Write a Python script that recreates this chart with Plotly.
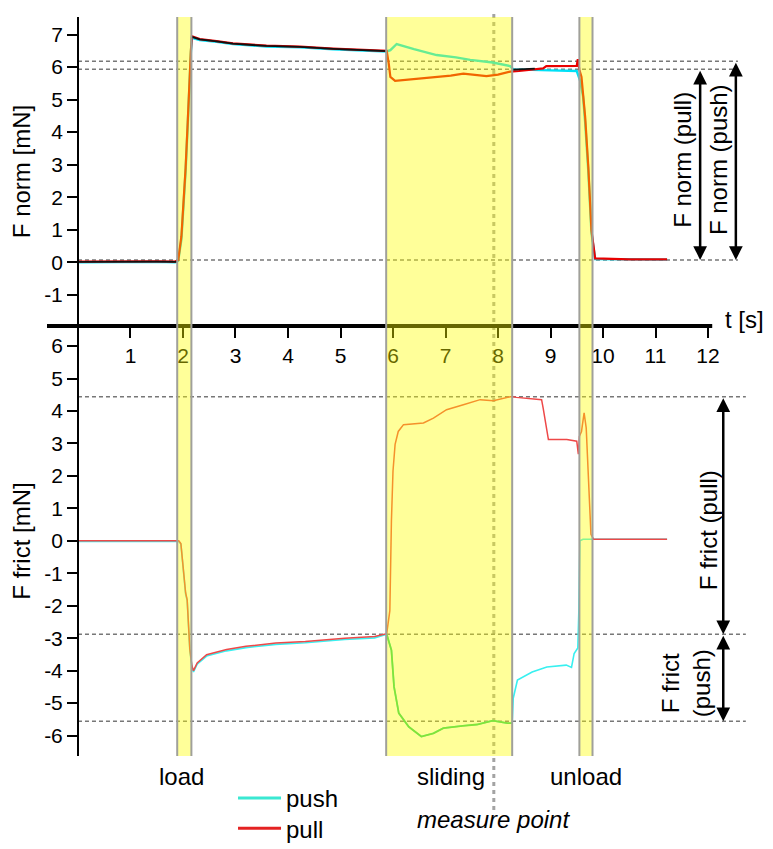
import plotly.graph_objects as go

# ---------------- data ----------------
# Normal force, top panel
norm_t_push = [0, 0.5, 1.0, 1.5, 1.85, 1.91, 1.97, 2.01, 2.05, 2.09, 2.12, 2.15, 2.17, 2.32, 2.64, 2.95,
               3.59, 4.23, 4.86, 5.5, 5.88, 5.95, 6.07, 6.4, 6.83, 7.2, 7.47, 7.9, 8.23, 8.29, 8.6, 9.0,
               9.5, 9.56, 9.62, 9.66, 9.72, 9.78, 9.85, 10.5, 11.22]
norm_push = [0.0, 0.01, 0.0, 0.01, 0.0, 0.05, 0.7, 1.7, 2.8, 4.2, 5.5, 6.45, 6.9, 6.83, 6.78, 6.71,
             6.63, 6.61, 6.55, 6.5, 6.48, 6.52, 6.71, 6.55, 6.37, 6.3, 6.22, 6.14, 6.03, 5.93, 5.91, 5.9,
             5.88, 5.6, 5.1, 4.3, 2.8, 0.9, 0.1, 0.08, 0.08]

norm_t_pull = [0, 0.5, 1.0, 1.5, 1.85, 1.91, 1.97, 2.01, 2.05, 2.09, 2.12, 2.15, 2.17, 2.32, 2.64, 2.95,
               3.59, 4.23, 4.86, 5.5, 5.88, 5.92, 5.95, 6.04, 6.4, 6.83, 7.1, 7.34, 7.6, 7.78, 8.0, 8.23,
               8.4, 8.61, 8.86, 8.92, 9.2, 9.5, 9.52, 9.55, 9.59, 9.66, 9.72, 9.78, 9.85, 10.5, 11.22]
norm_pull = [0.02, 0.03, 0.02, 0.03, 0.02, 0.07, 0.8, 1.8, 2.9, 4.3, 5.55, 6.5, 6.95, 6.86, 6.8, 6.73,
             6.66, 6.63, 6.57, 6.53, 6.5, 6.1, 5.7, 5.58, 5.63, 5.7, 5.74, 5.8, 5.76, 5.72, 5.77, 5.86,
             5.88, 5.91, 5.96, 6.03, 6.04, 6.04, 6.24, 5.92, 5.7, 4.47, 2.93, 0.98, 0.12, 0.09, 0.09]

# mean normal force where both runs coincide
norm_t_mean = [0, 0.5, 1.0, 1.5, 1.88, None, 2.17, 2.32, 2.64, 2.95, 3.59, 4.23, 4.86, 5.5, 5.88,
               None, 8.29, 8.45, 8.6, 8.7]
norm_mean = [0.01, 0.02, 0.01, 0.02, 0.01, None, 6.93, 6.85, 6.79, 6.72, 6.65, 6.62, 6.56, 6.52, 6.49,
             None, 5.92, 5.93, 5.94, 5.95]

# Friction force, bottom panel
frict_t_push = [0, 0.5, 1.0, 1.5, 1.92, 1.96, 2.01, 2.05, 2.08, 2.1, 2.13, 2.17, 2.2, 2.27, 2.45, 2.83,
                3.2, 3.77, 4.33, 5.08, 5.65, 5.88, 5.97, 6.02, 6.11, 6.3, 6.54, 6.77, 6.96, 7.33, 7.6,
                7.9, 8.18, 8.27, 8.29, 8.37, 8.65, 8.93, 9.3, 9.4, 9.45, 9.52, 9.54, 9.56, 9.62, 9.8,
                10.5, 11.22]
frict_push = [-0.02, -0.02, -0.02, -0.02, -0.02, -0.1, -0.92, -1.64, -1.84, -2.45, -3.37, -3.89, -4.04,
              -3.8, -3.55, -3.39, -3.29, -3.19, -3.14, -3.04, -2.99, -2.88, -3.37, -4.5, -5.31, -5.73,
              -6.03, -5.93, -5.77, -5.7, -5.66, -5.54, -5.62, -5.62, -4.85, -4.29, -4.04, -3.89, -3.83,
              -3.9, -3.47, -3.3, -2.15, 0.0, 0.05, 0.05, 0.05, 0.05]

frict_t_pull = [0, 0.5, 1.0, 1.5, 1.92, 1.96, 2.01, 2.05, 2.08, 2.1, 2.13, 2.17, 2.2, 2.27, 2.45, 2.83,
                3.2, 3.77, 4.33, 5.08, 5.65, 5.88, 5.94, 5.97, 6.0, 6.04, 6.1, 6.2, 6.58, 6.77, 7.02,
                7.34, 7.66, 7.91, 8.26, 8.35, 8.83, 8.86, 8.91, 8.96, 9.31, 9.5, 9.53, 9.55, 9.59, 9.64,
                9.68, 9.72, 9.77, 9.82, 10.5, 11.22]
frict_pull = [0.0, 0.0, 0.0, 0.0, 0.0, -0.08, -0.9, -1.6, -1.82, -2.42, -3.33, -3.85, -4.0, -3.76,
              -3.51, -3.35, -3.25, -3.15, -3.1, -3.0, -2.95, -2.86, -2.15, 0.61, 2.15, 2.97, 3.37, 3.58,
              3.63, 3.78, 4.04, 4.19, 4.35, 4.32, 4.45, 4.42, 4.35, 4.09, 3.58, 3.12, 3.12, 3.07, 2.67,
              3.22, 3.37, 3.94, 3.48, 1.84, 0.2, 0.05, 0.05, 0.05]

# phases (time windows, s)
phase_names = ["load", "sliding", "unload"]
phase_start = [1.89, 5.87, 9.55]
phase_end = [2.16, 8.27, 9.80]
phase_label_t = [1.98, 7.11, 9.68]
measure_t = 7.92

# reference levels
norm_levels = [6.18, 5.93, 0.07]       # push max, pull max, baseline
frict_levels = [4.44, -2.88, -5.56]     # pull, zero-level, push

x_ticks = list(range(1, 13))
y1_ticks = list(range(-1, 8))
y2_ticks = list(range(-6, 7))
y1_ticktext = [str(v) for v in y1_ticks]
y2_ticktext = [str(v) for v in y2_ticks]

# ---------------- styling ----------------
FONT = "Liberation Sans, Arial, sans-serif"
TICK_SIZE = 21
TXT_SIZE = 24
DOM_SPLIT = 0.5819

# push friction samples inside the sliding window (drawn in green)
slide_idx = [i for i, t in enumerate(frict_t_push) if 5.87 <= t <= 8.28]
frict_t_push_slide = [frict_t_push[i] for i in slide_idx]
frict_push_slide = [frict_push[i] for i in slide_idx]

fig = go.Figure()

fig.add_trace(go.Scatter(x=norm_t_push, y=norm_push, mode="lines", name="push",
                         line=dict(color="#00E0F6", width=2.4), legendgroup="push",
                         showlegend=False, xaxis="x", yaxis="y"))
fig.add_trace(go.Scatter(x=norm_t_pull, y=norm_pull, mode="lines", name="pull",
                         line=dict(color="#E80000", width=2.2), legendgroup="pull",
                         showlegend=False, xaxis="x", yaxis="y"))
fig.add_trace(go.Scatter(x=norm_t_mean, y=norm_mean, mode="lines", name="mean",
                         line=dict(color="#111111", width=1.8), showlegend=False,
                         connectgaps=False, xaxis="x", yaxis="y"))
fig.add_trace(go.Scatter(x=frict_t_push, y=frict_push, mode="lines", name="push",
                         line=dict(color="#38F0F0", width=1.6), legendgroup="push",
                         showlegend=False, xaxis="x", yaxis="y2"))
fig.add_trace(go.Scatter(x=frict_t_push_slide, y=frict_push_slide, mode="lines", name="push",
                         line=dict(color="#2ED060", width=1.8), legendgroup="push",
                         showlegend=False, xaxis="x", yaxis="y2"))
fig.add_trace(go.Scatter(x=frict_t_pull, y=frict_pull, mode="lines", name="pull",
                         line=dict(color="#EE4848", width=1.5), legendgroup="pull",
                         showlegend=False, xaxis="x", yaxis="y2"))
# legend entries (one legend box per entry so the rows can be placed exactly)
fig.add_trace(go.Scatter(x=[None], y=[None], mode="lines", name="push",
                         line=dict(color="#3AE8D2", width=3), legend="legend",
                         xaxis="x", yaxis="y"))
fig.add_trace(go.Scatter(x=[None], y=[None], mode="lines", name="pull",
                         line=dict(color="#E42222", width=3), legend="legend2",
                         xaxis="x", yaxis="y"))

shapes = []
# horizontal dashed reference lines
for v in norm_levels:
    shapes.append(dict(type="line", xref="x", yref="y", x0=0, x1=12.57, y0=v, y1=v,
                       line=dict(color="#777777", width=1.5, dash="4px,3px"), layer="below"))
for v in frict_levels:
    shapes.append(dict(type="line", xref="x", yref="y2", x0=0, x1=12.72, y0=v, y1=v,
                       line=dict(color="#777777", width=1.5, dash="4px,3px"), layer="below"))
# measure point
shapes.append(dict(type="line", xref="x", yref="paper", x0=measure_t, x1=measure_t,
                   y0=-0.073, y1=1.0095,
                   line=dict(color="#A3A3A3", width=3, dash="4px,4px"), layer="below"))
# thick time axis
shapes.append(dict(type="line", xref="x", yref="paper", x0=-0.59, x1=12.08,
                   y0=DOM_SPLIT, y1=DOM_SPLIT, line=dict(color="black", width=4), layer="below"))
# phase bands (translucent yellow, above everything)
for s, e in zip(phase_start, phase_end):
    shapes.append(dict(type="rect", xref="x", yref="paper", x0=s, x1=e, y0=0, y1=1,
                       fillcolor="rgba(255,255,0,0.4)", line=dict(width=0), layer="above"))
    for xe in (s, e):
        shapes.append(dict(type="line", xref="x", yref="paper", x0=xe, x1=xe, y0=0, y1=1,
                           line=dict(color="#A0A09A", width=2), layer="above"))

annotations = []


def darrow(x, y0, y1, yref):
    return dict(x=x, y=y1, ax=x, ay=y0, xref="x", yref=yref, axref="x", ayref=yref,
                text="", showarrow=True, arrowhead=2, startarrowhead=2, arrowside="end+start",
                arrowsize=1.1, startarrowsize=1.1, arrowwidth=2.5, arrowcolor="black",
                standoff=0, startstandoff=0)


annotations.append(darrow(11.85, norm_levels[1], norm_levels[2], "y"))
annotations.append(darrow(12.53, norm_levels[0], norm_levels[2], "y"))
annotations.append(darrow(12.29, frict_levels[0], frict_levels[1], "y2"))
annotations.append(darrow(12.29, frict_levels[1], frict_levels[2], "y2"))

txt_font = dict(family=FONT, size=TXT_SIZE, color="black")
annotations += [
    dict(x=11.50, y=3.14, xref="x", yref="y", text="F norm (pull)", textangle=-90,
         showarrow=False, font=txt_font),
    dict(x=12.19, y=3.14, xref="x", yref="y", text="F norm (push)", textangle=-90,
         showarrow=False, font=txt_font),
    dict(x=12.0, y=0.33, xref="x", yref="y2", text="F frict (pull)", textangle=-90,
         showarrow=False, font=txt_font),
    dict(x=11.58, y=-4.39, xref="x", yref="y2", text="F frict<br>(push)", textangle=-90,
         showarrow=False, font=txt_font),
    dict(x=12.69, y=0.590, xref="x", yref="paper", text="t [s]", showarrow=False,
         font=txt_font, xanchor="center", yanchor="middle"),
    dict(x=measure_t, y=-0.0866, xref="x", yref="paper", text="<i>measure point</i>",
         showarrow=False, font=txt_font, yanchor="middle"),
]
for name, xt in zip(phase_names, phase_label_t):
    annotations.append(dict(x=xt, y=-0.0284, xref="x", yref="paper", text=name,
                            showarrow=False, font=txt_font, yanchor="middle"))

axis_common = dict(showgrid=False, zeroline=False, ticks="outside", tickwidth=2,
                   tickcolor="black", tickfont=dict(family=FONT, size=TICK_SIZE, color="black"))

legend_common = dict(xref="paper", yref="container", xanchor="left", yanchor="top",
                     bgcolor="rgba(0,0,0,0)", font=dict(family=FONT, size=TXT_SIZE),
                     itemwidth=43)

fig.update_layout(
    width=773, height=849,
    margin=dict(l=47, r=13, t=17, b=93, autoexpand=False),
    paper_bgcolor="white", plot_bgcolor="white",
    font=dict(family=FONT, size=TXT_SIZE, color="black"),
    showlegend=True,
    legend=dict(x=0.2609, y=0.0860, **legend_common),
    legend2=dict(x=0.2609, y=0.0506, **legend_common),
    xaxis=dict(domain=[0, 1], range=[-0.59, 12.99], anchor="y", side="bottom",
               showline=False, tickvals=x_ticks, ticklen=11, **axis_common),
    yaxis=dict(domain=[DOM_SPLIT, 1], range=[-1.96, 7.54], anchor="free", position=0.0435,
               showline=True, linecolor="black", linewidth=2, tickvals=y1_ticks,
               ticktext=y1_ticktext, ticklen=10,
               title=dict(text="F norm [mN]", font=dict(family=FONT, size=TXT_SIZE), standoff=6),
               automargin=False, **axis_common),
    yaxis2=dict(domain=[0, DOM_SPLIT], range=[-6.63, 6.62], anchor="free", position=0.0435,
                showline=True, linecolor="black", linewidth=2, tickvals=y2_ticks,
                ticktext=y2_ticktext, ticklen=10,
                title=dict(text="F frict [mN]", font=dict(family=FONT, size=TXT_SIZE), standoff=6),
                automargin=False, **axis_common),
    shapes=shapes,
    annotations=annotations,
)

fig.write_html("out.html", config={"displayModeBar": False},
               post_script="document.body.style.margin='0';")
